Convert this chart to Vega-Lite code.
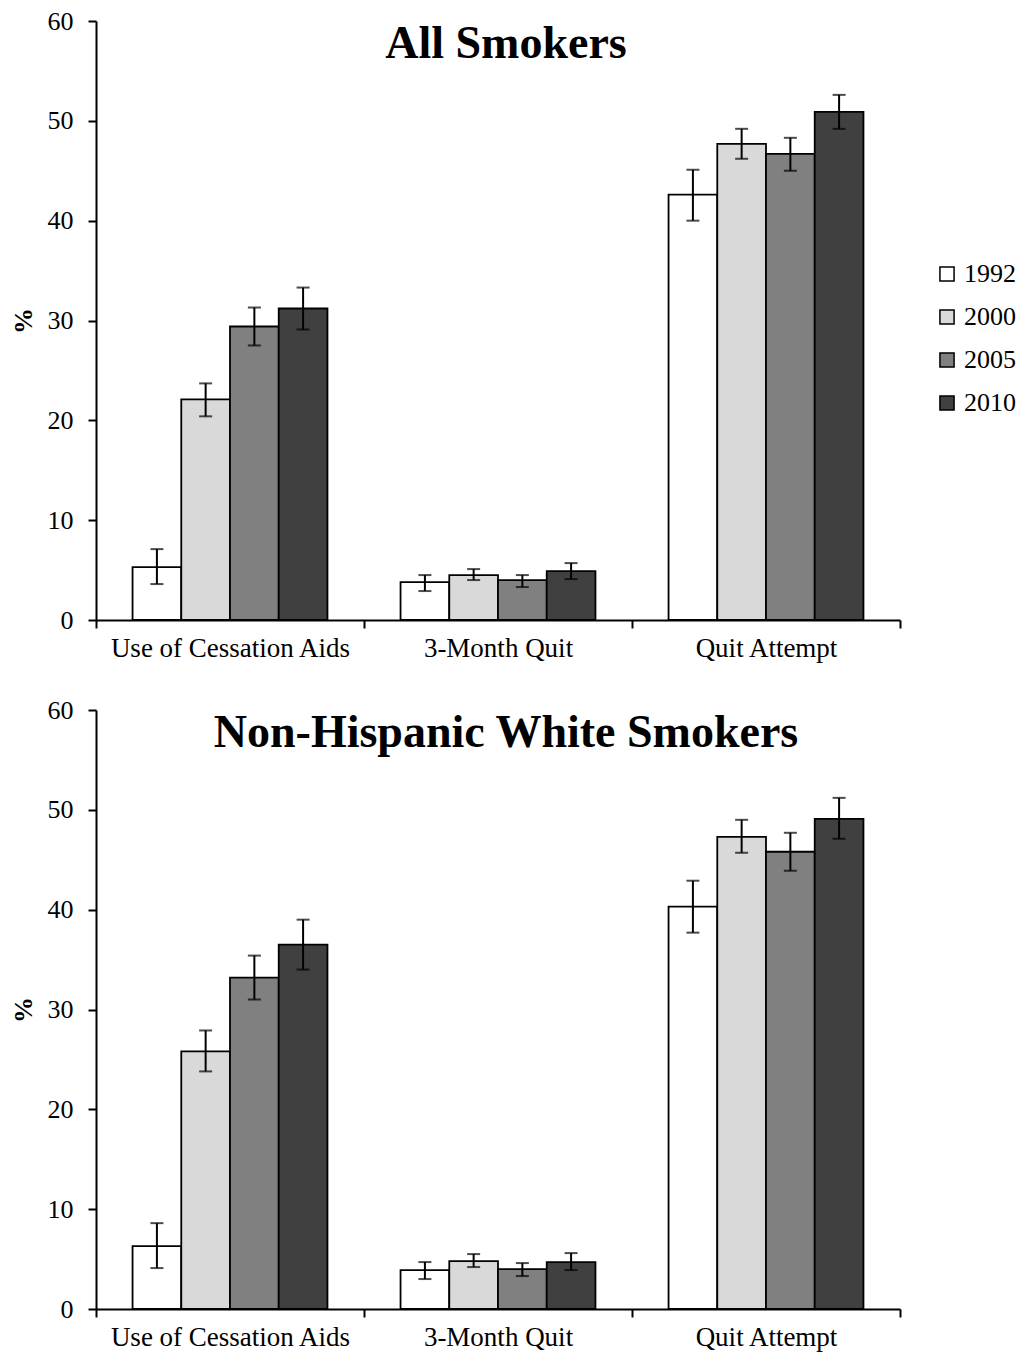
{
  "$schema": "https://vega.github.io/schema/vega-lite/v6.json",
  "background": "white",
  "padding": {"left": 10, "top": 8, "right": 2, "bottom": 5},
  "config": {
    "font": "Liberation Serif",
    "view": {"stroke": null},
    "axis": {"labelFont": "Liberation Serif", "titleFont": "Liberation Serif", "labelColor": "black", "titleColor": "black", "domainColor": "black", "tickColor": "black", "domainWidth": 2, "tickWidth": 2},
    "legend": {"labelFont": "Liberation Serif"}
  },
  "datasets": {
    "d": [
      {"panel": "All", "measure": "Use of Cessation Aids", "year": "1992", "value": 5.3, "lo": 3.6, "hi": 7.1},
      {"panel": "All", "measure": "Use of Cessation Aids", "year": "2000", "value": 22.1, "lo": 20.4, "hi": 23.7},
      {"panel": "All", "measure": "Use of Cessation Aids", "year": "2005", "value": 29.4, "lo": 27.5, "hi": 31.3},
      {"panel": "All", "measure": "Use of Cessation Aids", "year": "2010", "value": 31.2, "lo": 29.1, "hi": 33.3},
      {"panel": "All", "measure": "3-Month Quit", "year": "1992", "value": 3.8, "lo": 2.9, "hi": 4.5},
      {"panel": "All", "measure": "3-Month Quit", "year": "2000", "value": 4.5, "lo": 4.0, "hi": 5.1},
      {"panel": "All", "measure": "3-Month Quit", "year": "2005", "value": 4.0, "lo": 3.3, "hi": 4.5},
      {"panel": "All", "measure": "3-Month Quit", "year": "2010", "value": 4.9, "lo": 4.1, "hi": 5.7},
      {"panel": "All", "measure": "Quit Attempt", "year": "1992", "value": 42.6, "lo": 40.0, "hi": 45.1},
      {"panel": "All", "measure": "Quit Attempt", "year": "2000", "value": 47.7, "lo": 46.2, "hi": 49.2},
      {"panel": "All", "measure": "Quit Attempt", "year": "2005", "value": 46.7, "lo": 45.0, "hi": 48.3},
      {"panel": "All", "measure": "Quit Attempt", "year": "2010", "value": 50.9, "lo": 49.2, "hi": 52.6},
      {"panel": "White", "measure": "Use of Cessation Aids", "year": "1992", "value": 6.3, "lo": 4.1, "hi": 8.6},
      {"panel": "White", "measure": "Use of Cessation Aids", "year": "2000", "value": 25.8, "lo": 23.8, "hi": 27.9},
      {"panel": "White", "measure": "Use of Cessation Aids", "year": "2005", "value": 33.2, "lo": 31.0, "hi": 35.4},
      {"panel": "White", "measure": "Use of Cessation Aids", "year": "2010", "value": 36.5, "lo": 34.0, "hi": 39.0},
      {"panel": "White", "measure": "3-Month Quit", "year": "1992", "value": 3.9, "lo": 3.0, "hi": 4.7},
      {"panel": "White", "measure": "3-Month Quit", "year": "2000", "value": 4.8, "lo": 4.2, "hi": 5.5},
      {"panel": "White", "measure": "3-Month Quit", "year": "2005", "value": 4.0, "lo": 3.3, "hi": 4.6},
      {"panel": "White", "measure": "3-Month Quit", "year": "2010", "value": 4.7, "lo": 3.9, "hi": 5.6},
      {"panel": "White", "measure": "Quit Attempt", "year": "1992", "value": 40.3, "lo": 37.7, "hi": 42.9},
      {"panel": "White", "measure": "Quit Attempt", "year": "2000", "value": 47.3, "lo": 45.7, "hi": 49.0},
      {"panel": "White", "measure": "Quit Attempt", "year": "2005", "value": 45.8, "lo": 43.9, "hi": 47.7},
      {"panel": "White", "measure": "Quit Attempt", "year": "2010", "value": 49.1, "lo": 47.1, "hi": 51.2}
    ]
  },
  "spacing": 36,
  "resolve": {"scale": {"color": "independent"}, "legend": {"color": "independent"}},
  "vconcat": [
    {
      "width": 804, "height": 599,
      "data": {"name": "d"},
      "transform": [{"filter": "datum.panel === 'All'"}],
      "title": {"text": "All Smokers", "fontSize": 46, "fontWeight": "bold", "font": "Liberation Serif", "color": "black", "offset": -60, "anchor": "middle", "dx": 8},
      "encoding": {
        "x": {"field": "measure", "type": "nominal", "sort": ["Use of Cessation Aids", "3-Month Quit", "Quit Attempt"], "scale": {"paddingInner": 0, "paddingOuter": 0},
          "axis": {"title": null, "labelAngle": 0, "labelFontSize": 27, "labelLimit": 0, "labelPadding": 7, "tickSize": 8, "bandPosition": 0, "tickBand": "extent"}},
        "xOffset": {"field": "year", "type": "nominal", "scale": {"paddingInner": 0, "paddingOuter": 0.75}}
      },
      "layer": [
        {
          "mark": {"type": "bar", "stroke": "black", "strokeWidth": 1.8},
          "encoding": {
            "y": {"field": "value", "type": "quantitative", "scale": {"domain": [0, 60]},
              "axis": {"title": "%", "titleFontSize": 26, "titleFontWeight": "bold", "titleAngle": -90, "titlePadding": 11, "values": [0, 10, 20, 30, 40, 50, 60], "grid": false, "labelFontSize": 26, "tickSize": 8, "labelPadding": 15}},
            "fill": {"field": "year", "type": "nominal", "scale": {"domain": ["1992", "2000", "2005", "2010"], "range": ["#ffffff", "#d9d9d9", "#808080", "#404040"]},
              "legend": {"title": null, "orient": "none", "legendX": 838, "legendY": 240, "labelFontSize": 26, "symbolType": "square", "symbolSize": 200, "symbolStrokeColor": "black", "symbolStrokeWidth": 1.5, "rowPadding": 17, "labelOffset": 4}}
          }
        },
        {
          "mark": {"type": "rule", "color": "black", "strokeWidth": 2},
          "encoding": {"y": {"field": "lo", "type": "quantitative"}, "y2": {"field": "hi"}}
        },
        {
          "mark": {"type": "tick", "orient": "horizontal", "color": "black", "thickness": 2, "size": 13},
          "encoding": {"y": {"field": "lo", "type": "quantitative"}}
        },
        {
          "mark": {"type": "tick", "orient": "horizontal", "color": "black", "thickness": 2, "size": 13},
          "encoding": {"y": {"field": "hi", "type": "quantitative"}}
        }
      ]
    },
    {
      "width": 804, "height": 599,
      "data": {"name": "d"},
      "transform": [{"filter": "datum.panel === 'White'"}],
      "title": {"text": "Non-Hispanic White Smokers", "fontSize": 46, "fontWeight": "bold", "font": "Liberation Serif", "color": "black", "offset": -60, "anchor": "middle", "dx": 8},
      "encoding": {
        "x": {"field": "measure", "type": "nominal", "sort": ["Use of Cessation Aids", "3-Month Quit", "Quit Attempt"], "scale": {"paddingInner": 0, "paddingOuter": 0},
          "axis": {"title": null, "labelAngle": 0, "labelFontSize": 27, "labelLimit": 0, "labelPadding": 7, "tickSize": 8, "bandPosition": 0, "tickBand": "extent"}},
        "xOffset": {"field": "year", "type": "nominal", "scale": {"paddingInner": 0, "paddingOuter": 0.75}}
      },
      "layer": [
        {
          "mark": {"type": "bar", "stroke": "black", "strokeWidth": 1.8},
          "encoding": {
            "y": {"field": "value", "type": "quantitative", "scale": {"domain": [0, 60]},
              "axis": {"title": "%", "titleFontSize": 26, "titleFontWeight": "bold", "titleAngle": -90, "titlePadding": 11, "values": [0, 10, 20, 30, 40, 50, 60], "grid": false, "labelFontSize": 26, "tickSize": 8, "labelPadding": 15}},
            "fill": {"field": "year", "type": "nominal", "scale": {"domain": ["1992", "2000", "2005", "2010"], "range": ["#ffffff", "#d9d9d9", "#808080", "#404040"]},
              "legend": {"title": null, "orient": "none", "legendX": 838, "legendY": 240, "labelFontSize": 26, "symbolType": "square", "symbolSize": 200, "symbolStrokeColor": "black", "symbolStrokeWidth": 1.5, "rowPadding": 17, "labelOffset": 4}}
          }
        },
        {
          "mark": {"type": "rule", "color": "black", "strokeWidth": 2},
          "encoding": {"y": {"field": "lo", "type": "quantitative"}, "y2": {"field": "hi"}}
        },
        {
          "mark": {"type": "tick", "orient": "horizontal", "color": "black", "thickness": 2, "size": 13},
          "encoding": {"y": {"field": "lo", "type": "quantitative"}}
        },
        {
          "mark": {"type": "tick", "orient": "horizontal", "color": "black", "thickness": 2, "size": 13},
          "encoding": {"y": {"field": "hi", "type": "quantitative"}}
        }
      ]
    }
  ]
}
